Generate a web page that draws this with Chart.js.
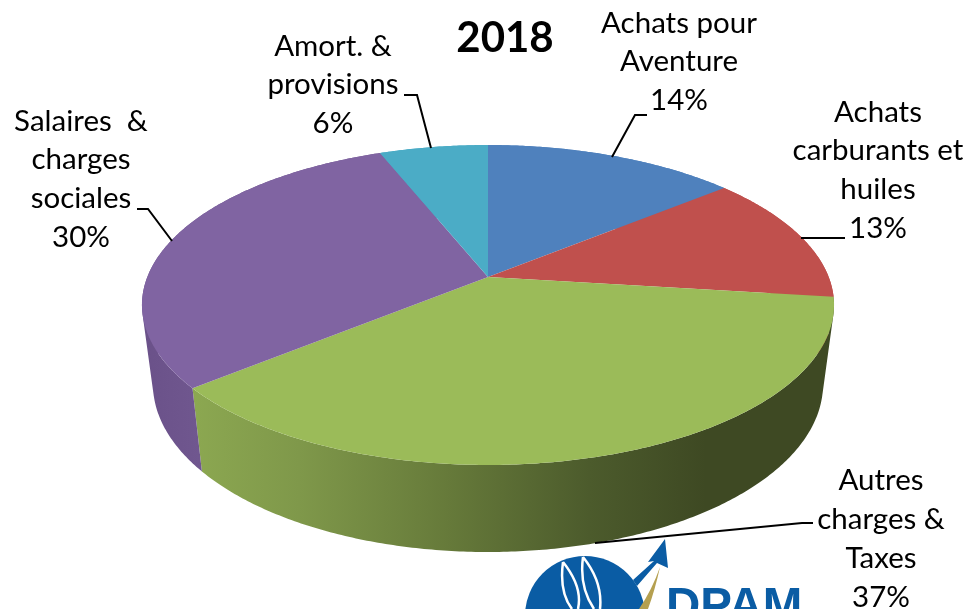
<!DOCTYPE html>
<html><head><meta charset="utf-8">
<style>html,body{margin:0;padding:0;background:#fff}canvas{display:block}</style>
<script src="https://cdn.jsdelivr.net/npm/chart.js@4/dist/chart.umd.js"></script>
</head><body><canvas id="c" width="969" height="609"></canvas>
<script>
const chartTitle = '2018';
const categories = [['Achats pour','Aventure'],['Achats','carburants et','huiles'],['Autres','charges &','Taxes'],['Salaires  &','charges','sociales'],['Amort. &','provisions']];
const shares = [14,13,37,30,6];
const sliceColors = ['#4F81BD','#C0504D','#9BBB59','#8064A2','#4BACC6'];
const labelAnchors = [[679,32.5],[878,121.5],[881,490],[81,130.5],[333,55.5]];
const leaders = [
  [[647,115],[635,115],[612,157]],
  [[845,238],[801,238]],
  [[813,523],[802,523],[595,543]],
  [[137,209],[148,209],[172,241]],
  [[404,95],[417,95],[431,148]]
];
const topDisc = {x0:488,s:340.7,a:106.6,b:277,c:-0.175};
const botDisc = {x0:488,s:329.9,a:100.8,b:354.6,c:-0.175};
const proj=(d,ang)=>{const u=Math.cos(ang),v=Math.sin(ang),w=1+d.c*v;return [d.x0+d.s*u/w,(d.a*v+d.b)/w];};
const arcPts=(d,a0,a1)=>{const n=Math.max(4,Math.ceil(Math.abs(a1-a0)/0.01)),p=[];for(let i=0;i<=n;i++)p.push(proj(d,a0+(a1-a0)*i/n));return p;};

const ArcEl = Chart.ArcElement || Chart.elements.ArcElement;
ArcEl.prototype.draw = function(ctx){
  ctx.save();
  ctx.beginPath();ctx.moveTo(topDisc.x0,topDisc.b);
  arcPts(topDisc,this.startAngle,this.endAngle).forEach(p=>ctx.lineTo(p[0],p[1]));
  ctx.closePath();
  ctx.fillStyle=this.options.backgroundColor;
  ctx.fill();
  ctx.restore();
};

function wallFill(ctx,i){
  if(i===2){
    const g=ctx.createLinearGradient(190,0,834,0);
    g.addColorStop(0,'#8CA851');g.addColorStop(0.17,'#7F984A');g.addColorStop(0.4,'#667A3A');
    g.addColorStop(0.62,'#4C5B2C');g.addColorStop(0.8,'#3E4923');g.addColorStop(1,'#3E4923');
    return g;
  }
  if(i===3){
    const g=ctx.createLinearGradient(142,0,200,0);
    g.addColorStop(0,'#6A5189');g.addColorStop(1,'#70578F');
    return g;
  }
  return sliceColors[i];
}

const pie3d={id:'pie3d',
  beforeDatasetsDraw(chart){
    const ctx=chart.ctx,arcs=chart.getDatasetMeta(0).data;
    arcs.forEach((el,i)=>{
      const t=arcPts(topDisc,el.startAngle,el.endAngle),b=arcPts(botDisc,el.startAngle,el.endAngle);
      ctx.fillStyle=wallFill(ctx,i);
      ctx.beginPath();
      for(let k=0;k<t.length-1;k++){
        let q=[t[k],t[k+1],b[k+1],b[k]],area=0;
        for(let m=0;m<4;m++){const p=q[m],r=q[(m+1)%4];area+=p[0]*r[1]-r[0]*p[1];}
        if(area<0)q=q.reverse();
        q.forEach((p,m)=>m?ctx.lineTo(p[0],p[1]):ctx.moveTo(p[0],p[1]));
        ctx.closePath();
      }
      ctx.fill('nonzero');
    });
  },
  afterDatasetsDraw(chart){
    const ctx=chart.ctx;
    // logo
    ctx.save();
    ctx.fillStyle='#0A5CA4';
    ctx.beginPath();ctx.arc(585,616,60,0,Math.PI*2);ctx.fill();
    ctx.strokeStyle='#fff';ctx.lineWidth=2.5;
    [[563,562,578,609],[583,557,600,609]].forEach(s=>{
      ctx.beginPath();ctx.moveTo(s[0],s[1]);ctx.quadraticCurveTo(s[0]+20,s[1]+25,s[2],s[3]);
      ctx.moveTo(s[0],s[1]);ctx.quadraticCurveTo(s[0]-4,s[1]+30,s[2]-6,s[3]);ctx.stroke();
    });
    ctx.fillStyle='#0A5CA4';
    ctx.beginPath();ctx.moveTo(665,539);ctx.lineTo(668,568);ctx.lineTo(657,563);ctx.lineTo(637,586);ctx.lineTo(633,580);ctx.lineTo(654,561);ctx.lineTo(648,562);ctx.closePath();ctx.fill();
    ctx.fillStyle='#B5A050';
    ctx.beginPath();ctx.moveTo(660,567);ctx.quadraticCurveTo(655,590,648,609);ctx.lineTo(639,609);ctx.quadraticCurveTo(652,590,660,567);ctx.fill();
    ctx.fillStyle='#0A5CA4';ctx.font='bold 47.5px "Liberation Sans"';ctx.textAlign='left';ctx.textBaseline='alphabetic';
    ctx.fillText('DPAM',666,621);
    ctx.restore();
    // leaders
    ctx.save();ctx.strokeStyle='#000';ctx.lineWidth=2;
    leaders.forEach(l=>{ctx.beginPath();l.forEach((p,k)=>k?ctx.lineTo(p[0],p[1]):ctx.moveTo(p[0],p[1]));ctx.stroke();});
    ctx.restore();
    // labels
    ctx.save();ctx.fillStyle='#000';ctx.textAlign='center';ctx.textBaseline='alphabetic';
    ctx.font='29.5px Lato';
    categories.forEach((lines,i)=>{
      const a=labelAnchors[i];
      lines.concat([shares[i]+'%']).forEach((t,k)=>ctx.fillText(t,a[0],a[1]+k*38.9));
    });
    ctx.font='bold 42px Lato';
    ctx.fillText(chartTitle,505,52);
    ctx.restore();
  }
};

new Chart(document.getElementById('c'),{
  type:'pie',
  data:{labels:categories.map(l=>l.join(' ')),datasets:[{data:shares,backgroundColor:sliceColors,borderWidth:0}]},
  options:{responsive:false,animation:false,plugins:{legend:{display:false},tooltip:{enabled:false},title:{display:false}}},
  plugins:[pie3d]
});
</script></body></html>
